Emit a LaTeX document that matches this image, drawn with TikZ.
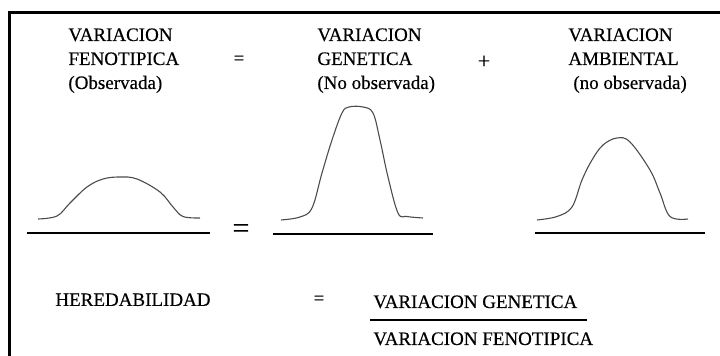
\documentclass[tikz,border=0pt]{standalone}
\usepackage{fontspec}
\setmainfont{Liberation Serif}
\newfontfamily\scanfont{Liberation Serif}[FakeBold=0.4]
\usetikzlibrary{positioning}

\begin{document}
\begin{tikzpicture}[x=0.5pt,y=-0.5pt,every node/.style={inner sep=0pt,font=\scanfont\fontsize{9.5}{12}\selectfont},col/.style={anchor=north west,align=left},curve/.style={draw=black!70,line width=0.55pt},base/.style={line width=1.3pt}]
  \useasboundingbox (0,0) rectangle (720,356);
  \draw[line width=1.6pt](720,12.5)--(9.5,12.5)--(9.5,356);

  \node[col] (fen) at (68,28){VARIACION\\FENOTIPICA\\(Observada)};
  \node[col] (gen) at (317,28){VARIACION\\GENETICA\\(No observada)};
  \node[col] (amb) at (568,28){VARIACION\\AMBIENTAL\\\hspace*{2.5pt}(no observada)};
  \node (eq1) at (239,60){=};
  \node[font=\scanfont\fontsize{11}{11}\selectfont] (plus) at (484,62){+};

  % curvas
  \draw[curve] plot[smooth,tension=0.6] coordinates {(38,219) (57,216) (70,203) (87,187) (103,179) (120,177) (137,179) (160,192) (173,207) (183,216.5) (200,218)};
  \draw[curve] plot[smooth,tension=0.6] coordinates {(281,220) (300,217) (312,208) (322,173) (332,140) (342,113) (349,107) (363,107) (373,113) (380,140) (388,177) (398,213) (407,216.5) (423,218)};
  \draw[curve] plot[smooth,tension=0.6] coordinates {(537,220) (557,216.5) (572,207) (582,180) (592,160) (603,145) (617,138) (630,142) (650,170) (660,193) (670,216.5) (688,219)};

  \draw[base](27,233)--(210,233);
  \draw[base](273,234)--(433,234);
  \draw[base](535,233)--(705,233);
  \node[font=\scanfont\fontsize{15}{15}\selectfont] (eq2) at (241,231){=};

  \node[anchor=north west] (her) at (55,293){HEREDABILIDAD};
  \node (eq3) at (319,300){=};
  \node[anchor=north west] (num) at (373,295){VARIACION GENETICA};
  \node[anchor=north west] (den) at (373,332){VARIACION FENOTIPICA};
  \draw[base](370,320)--(587,320);
\end{tikzpicture}
\end{document}
